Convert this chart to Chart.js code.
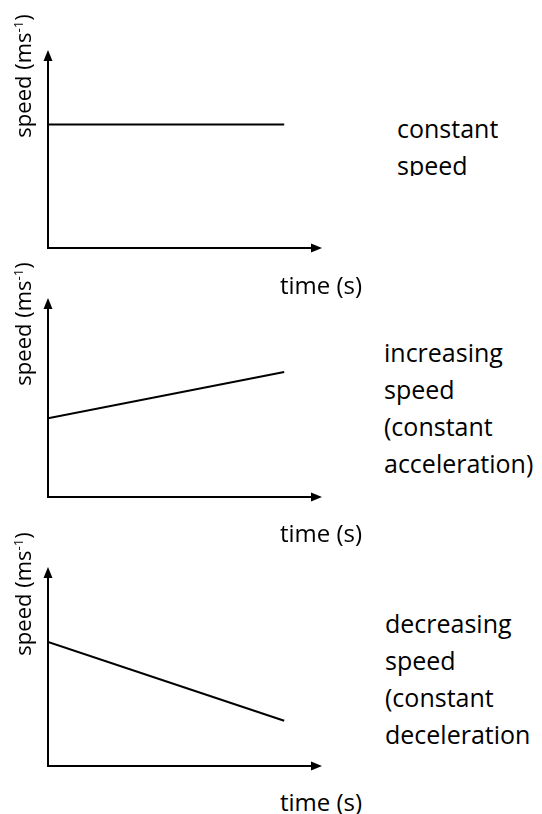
<!DOCTYPE html>
<html>
<head>
<meta charset="utf-8">
<script src="https://cdn.jsdelivr.net/npm/chart.js@4/dist/chart.umd.min.js"></script>
<style>
    html, body { margin: 0; padding: 0; background: #fff; }
    body { width: 542px; height: 814px; position: relative; overflow: hidden;
           font-family: "Open Sans", sans-serif; color: #000; }
    .panel { position: absolute; left: 0; width: 340px; height: 240px; }
    .ylabel { position: absolute; font-size: 22px; white-space: nowrap; line-height: 1;
              transform: translate(-50%, -50%) rotate(-90deg); }
    .ylabel sup { font-size: 13px; vertical-align: 8px; }
    .xlabel { position: absolute; font-size: 24px; line-height: 1; white-space: nowrap;
              transform: translateY(-50%); }
    .note { position: absolute; font-size: 25px; line-height: 37px; white-space: nowrap; overflow: hidden; }
</style>
</head>
<body>
<div class="panel" style="top:0px; height:260px"><canvas id="chart-constant"></canvas></div>
<div class="panel" style="top:270px"><canvas id="chart-increasing"></canvas></div>
<div class="panel" style="top:540px"><canvas id="chart-decreasing"></canvas></div>

<div class="ylabel" style="left:22px; top:76px">speed (ms<sup>-1</sup>)</div>
<div class="ylabel" style="left:22px; top:324px">speed (ms<sup>-1</sup>)</div>
<div class="ylabel" style="left:22px; top:594px">speed (ms<sup>-1</sup>)</div>

<div class="xlabel" style="left:280px; top:285px">time (s)</div>
<div class="xlabel" style="left:280px; top:533px">time (s)</div>
<div class="xlabel" style="left:280px; top:802px">time (s)</div>

<div class="note" style="left:397px; top:110px; height:66px">constant<br>speed</div>
<div class="note" style="left:384px; top:334px">increasing<br>speed<br>(constant<br>acceleration)</div>
<div class="note" style="left:385px; top:605px">decreasing<br>speed<br>(constant<br>deceleration</div>

<script>
'use strict';

// values (arbitrary units, axes have no ticks)
const timeValues = [0, 10];
const constantSpeed = [6.3, 6.3];
const increasingSpeed = [4.0, 6.35];
const decreasingSpeed = [6.3, 2.3];
const timeAxisMax = 11.6;
const speedAxisMax = 10;

// axis lines with arrow heads, drawn at the chart area edges
const arrowAxes = {
    id: 'arrow_axes',
    afterDraw: (chart) => {
        const ctx = chart.ctx;
        const {left, right, top, bottom} = chart.chartArea;
        ctx.save();
        ctx.strokeStyle = '#000';
        ctx.fillStyle = '#000';
        ctx.lineWidth = 2;
        ctx.beginPath();
        ctx.moveTo(left, bottom);
        ctx.lineTo(left, top + 8);
        ctx.moveTo(left - 1, bottom);
        ctx.lineTo(right - 8, bottom);
        ctx.stroke();
        ctx.beginPath();
        ctx.moveTo(left, top - 2);
        ctx.lineTo(left - 4.5, top + 9);
        ctx.lineTo(left + 4.5, top + 9);
        ctx.closePath();
        ctx.fill();
        ctx.beginPath();
        ctx.moveTo(right, bottom);
        ctx.lineTo(right - 11, bottom - 4.5);
        ctx.lineTo(right - 11, bottom + 4.5);
        ctx.closePath();
        ctx.fill();
        ctx.restore();
    }
}

function drawSpeedChart(id, speeds, padding) {
    const points = timeValues.map((t, i) => ({x: t, y: speeds[i]}));
    return new Chart(document.getElementById(id), {
        type: 'line',
        data: {
            datasets: [{
                data: points,
                borderColor: '#000',
                borderWidth: 2,
                pointRadius: 0,
                tension: 0
            }]
        },
        options: {
            responsive: true,
            maintainAspectRatio: false,
            animation: false,
            devicePixelRatio: 1,
            layout: {padding: padding},
            scales: {
                x: {type: 'linear', min: 0, max: timeAxisMax, display: false},
                y: {min: 0, max: speedAxisMax, display: false}
            },
            plugins: {
                legend: {display: false},
                tooltip: {enabled: false}
            }
        },
        plugins: [arrowAxes]
    });
}

drawSpeedChart('chart-constant', constantSpeed, {left: 48, right: 18, top: 52, bottom: 12});
drawSpeedChart('chart-increasing', increasingSpeed, {left: 48, right: 18, top: 30, bottom: 13});
drawSpeedChart('chart-decreasing', decreasingSpeed, {left: 48, right: 18, top: 29, bottom: 14});
</script>
</body>
</html>
